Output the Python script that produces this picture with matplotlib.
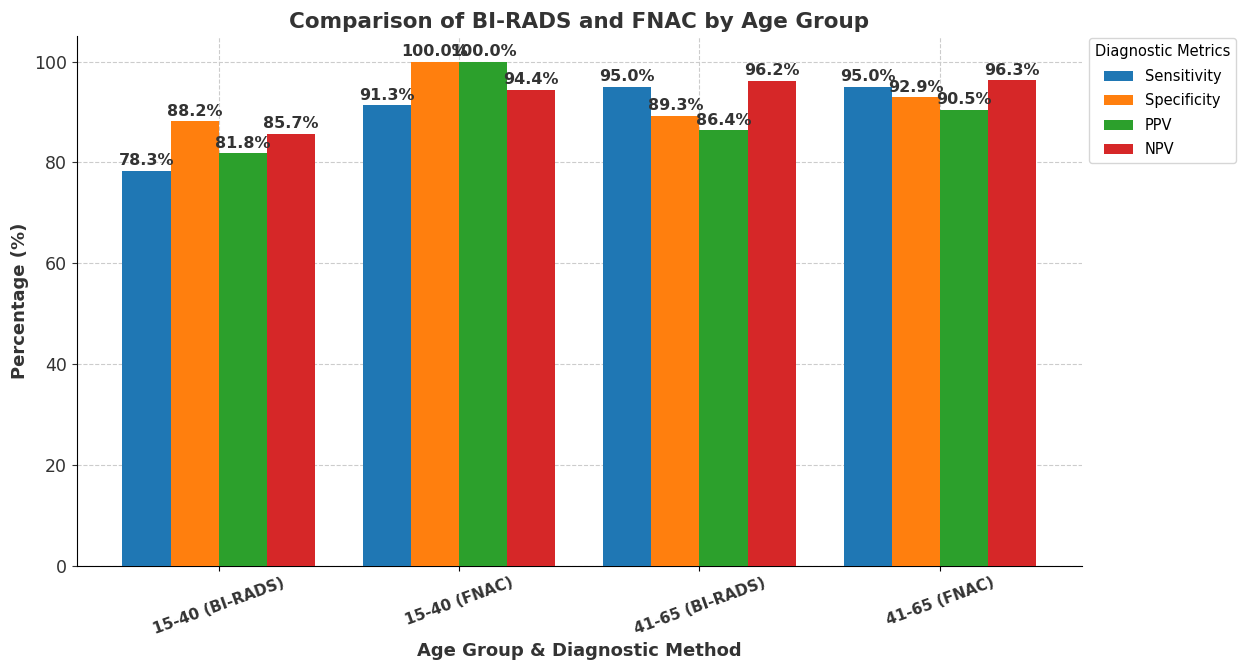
import matplotlib.pyplot as plt
import numpy as np

groups = ["15-40 (BI-RADS)", "15-40 (FNAC)", "41-65 (BI-RADS)", "41-65 (FNAC)"]
metrics = ["Sensitivity", "Specificity", "PPV", "NPV"]
sensitivity = [78.3, 91.3, 95.0, 95.0]
specificity = [88.2, 100.0, 89.3, 92.9]
ppv = [81.8, 100.0, 86.4, 90.5]
npv = [85.7, 94.4, 96.2, 96.3]
colors = ["#1f77b4", "#ff7f0e", "#2ca02c", "#d62728"]

TEXT = "#333333"

fig, ax = plt.subplots(figsize=(12.39, 6.63), dpi=100)
fig.subplots_adjust(left=0.062, right=0.873, top=0.945, bottom=0.147)

x = np.arange(len(groups))
width = 0.2
for i, (name, vals) in enumerate(zip(metrics, [sensitivity, specificity, ppv, npv])):
    bars = ax.bar(x + (i - 1.5) * width, vals, width, label=name, color=colors[i], zorder=3)
    for b, v in zip(bars, vals):
        ax.text(b.get_x() + b.get_width() / 2, v + 0.5, f"{v:.1f}%",
                ha="center", va="bottom", fontsize=11.5, fontweight="bold", color=TEXT, zorder=4)

ax.set_xticks(x)
ax.set_xticklabels(groups, rotation=20, fontweight="bold", fontsize=11, color=TEXT)
ax.tick_params(axis="y", labelsize=12.5, colors=TEXT)
ax.set_ylabel("Percentage (%)", fontsize=13, fontweight="bold", color=TEXT)
ax.set_xlabel("Age Group & Diagnostic Method", fontsize=13, fontweight="bold", color=TEXT)
ax.set_title("Comparison of BI-RADS and FNAC by Age Group", fontsize=15.5, fontweight="bold", color=TEXT)
ax.set_ylim(0, 105)
ax.grid(True, linestyle="--", color="#cccccc", linewidth=0.8, zorder=0)
ax.spines["top"].set_visible(False)
ax.spines["right"].set_visible(False)

ax.legend(title="Diagnostic Metrics", loc="upper left", bbox_to_anchor=(1.0, 1.01),
          fontsize=10.5, title_fontsize=10.5, labelspacing=0.65)

fig.savefig("out.png", dpi=100)
